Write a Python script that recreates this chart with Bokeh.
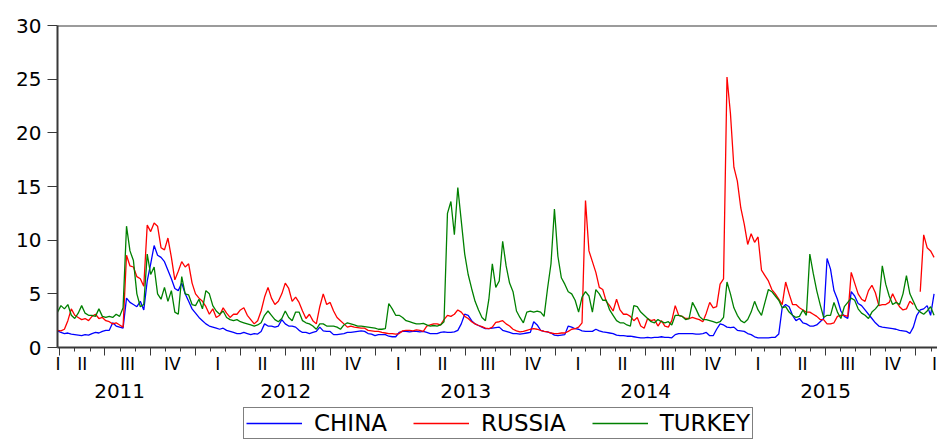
import numpy as np
import pandas as pd
from bokeh.plotting import figure
from bokeh.layouts import column
from bokeh.models import (Range1d, FixedTicker, LinearAxis, Span, Legend, LegendItem,
                          CustomLabelingPolicy)
from bokeh.embed import file_html
from bokeh.resources import INLINE

# ---------------- data (weekly readings, start 2011-03-27) ----------------
start_date = "2011-03-27"
n_weeks = 255

china = [
    1.55, 1.4, 1.3, 1.35, 1.25, 1.2, 1.15, 1.1, 1.2, 1.15,
    1.3, 1.4, 1.35, 1.5, 1.6, 1.6, 2.3, 2.0, 1.9, 1.8,
    4.6, 4.2, 4.0, 3.8, 4.3, 3.5, 6.2, 7.8, 9.5, 8.6,
    8.4, 8.0, 7.2, 6.4, 5.5, 5.3, 6.0, 5.0, 4.3, 3.6,
    3.2, 2.8, 2.5, 2.2, 2.0, 1.9, 1.8, 1.7, 1.8, 1.6,
    1.5, 1.4, 1.3, 1.3, 1.4, 1.3, 1.2, 1.3, 1.25, 1.5,
    2.2, 2.0, 2.0, 1.9, 2.0, 2.6, 2.2, 2.0, 2.0, 1.9,
    1.6, 1.4, 1.4, 1.3, 1.4, 1.5, 1.9, 1.55, 1.5, 1.5,
    1.2, 1.2, 1.25, 1.3, 1.4, 1.4, 1.45, 1.5, 1.55, 1.5,
    1.3, 1.25, 1.1, 1.2, 1.2, 1.2, 1.05, 1.0, 1.0, 1.4,
    1.5, 1.5, 1.45, 1.5, 1.5, 1.45, 1.5, 1.4, 1.3, 1.3,
    1.3, 1.4, 1.45, 1.4, 1.4, 1.45, 1.6, 2.2, 3.1, 3.0,
    2.5, 2.2, 2.05, 1.9, 1.75, 1.75, 1.8, 1.85, 1.9, 1.6,
    1.5, 1.4, 1.3, 1.3, 1.25, 1.3, 1.35, 1.4, 2.4, 2.1,
    1.6, 1.5, 1.45, 1.35, 1.15, 1.1, 1.15, 1.2, 2.0, 1.9,
    1.75, 1.7, 1.55, 1.5, 1.5, 1.5, 1.7, 1.55, 1.45, 1.4,
    1.35, 1.3, 1.15, 1.1, 1.1, 1.05, 1.05, 1.0, 0.95, 0.9,
    0.9, 0.95, 0.9, 0.95, 0.95, 1.0, 0.95, 0.95, 0.9, 1.2,
    1.3, 1.3, 1.3, 1.3, 1.3, 1.25, 1.25, 1.3, 1.4, 1.1,
    1.1, 1.7, 2.2, 2.1, 1.9, 1.85, 1.9, 1.6, 1.55, 1.5,
    1.3, 1.2, 1.0, 0.9, 0.9, 0.9, 0.9, 0.95, 0.95, 1.25,
    3.7, 4.0, 3.8, 3.0, 2.5, 2.7, 2.3, 2.2, 2.0, 2.0,
    2.1, 2.4, 2.7, 8.3, 7.3, 5.3, 4.5, 3.4, 2.9, 2.7,
    5.2, 4.8, 4.1, 3.9, 3.5, 3.1, 2.7, 2.3, 2.0, 1.9,
    1.85, 1.8, 1.75, 1.7, 1.6, 1.55, 1.5, 1.3, 1.9, 3.0,
    3.5, 3.6, 3.9, 3.0, 5.0,
]

russia = [
    1.6, 1.55, 1.7, 2.5, 3.6, 3.0, 2.8, 2.6, 2.7, 2.5,
    2.9, 3.1, 2.7, 2.8, 2.5, 2.4, 2.2, 2.3, 2.1, 1.9,
    8.6, 7.6, 7.5, 6.6, 6.4, 5.7, 11.4, 10.8, 11.6, 11.3,
    9.3, 9.1, 10.2, 8.4, 6.3, 7.1, 8.0, 7.5, 7.8, 6.0,
    5.0, 4.6, 4.3, 3.8, 3.1, 3.6, 2.8, 3.0, 3.7, 3.2,
    2.8, 3.1, 3.1, 3.5, 3.7, 3.0, 2.6, 2.2, 2.5, 3.4,
    4.7, 5.6, 4.6, 4.0, 4.3, 5.0, 6.0, 5.5, 4.3, 4.7,
    4.2, 3.4, 2.7, 3.1, 2.5, 2.2, 3.8, 5.0, 4.0, 4.2,
    3.4, 2.8, 2.5, 2.2, 1.9, 2.0, 1.9, 1.85, 1.8, 1.8,
    1.6, 1.55, 1.5, 1.5, 1.4, 1.35, 1.3, 1.3, 1.25, 1.3,
    1.55, 1.6, 1.6, 1.55, 1.65, 1.6, 1.5, 2.0, 2.1, 2.2,
    2.2, 2.1, 2.6, 3.0, 2.9, 3.1, 3.5, 3.3, 2.9, 2.7,
    2.4, 2.2, 2.05, 1.95, 1.8, 1.75, 1.9, 2.35, 2.4, 2.5,
    2.2, 2.0, 1.7, 1.55, 1.45, 1.5, 1.6, 1.7, 1.75, 1.7,
    1.6, 1.5, 1.45, 1.35, 1.3, 1.3, 1.35, 1.35, 1.5, 1.7,
    1.75, 1.9, 2.3, 13.7, 9.0, 8.0, 7.0, 5.6, 5.4, 4.3,
    3.9, 3.4, 4.5, 3.5, 3.1, 3.1, 2.9, 2.5, 2.8, 2.0,
    1.8, 2.7, 2.5, 2.6, 2.0, 2.5, 2.0, 1.9, 2.5, 3.9,
    3.0, 2.9, 2.7, 2.7, 2.8, 2.7, 2.6, 2.4, 3.2, 4.2,
    3.7, 3.8, 5.9, 6.4, 25.2, 21.8, 16.8, 15.5, 13.0, 11.5,
    9.6, 10.6, 9.8, 10.3, 7.2, 6.7, 6.2, 5.4, 5.0, 4.5,
    4.0, 6.1, 5.0, 4.0, 4.0, 3.7, 3.5, 3.3, 3.3, 3.1,
    2.9, 2.6, 2.6, 2.2, 2.2, 2.3, 2.9, 3.0, 3.0, 2.9,
    7.0, 6.0, 5.0, 4.5, 4.3, 5.3, 5.8, 5.1, 3.9, 4.0,
    4.0, 4.2, 5.0, 4.3, 3.8, 3.5, 3.6, 4.3, 4.0, float("nan"),
    5.2, 10.5, 9.3, 9.0, 8.4,
]

turkey = [
    3.3, 3.9, 3.6, 4.0, 3.0, 2.7, 3.2, 3.9, 3.2, 3.0,
    3.0, 2.9, 3.6, 2.9, 2.8, 2.9, 2.8, 3.1, 2.9, 3.7,
    11.3, 9.0, 8.1, 5.0, 3.8, 4.0, 8.7, 6.8, 7.5, 5.0,
    4.5, 5.6, 4.3, 5.3, 3.3, 3.1, 6.6, 5.0, 4.9, 4.0,
    3.9, 4.5, 3.6, 5.3, 5.0, 3.9, 3.4, 3.1, 3.4, 2.8,
    2.6, 2.5, 2.6, 2.4, 2.3, 2.2, 2.1, 2.0, 2.1, 2.3,
    3.0, 3.4, 3.0, 2.6, 2.4, 2.7, 3.4, 2.8, 2.5, 3.3,
    3.3, 2.5, 2.3, 2.2, 2.0, 1.7, 2.2, 2.2, 2.0, 2.0,
    2.0, 1.9, 1.7, 2.1, 2.3, 2.2, 2.1, 2.0, 2.0, 1.95,
    1.9, 1.85, 1.8, 1.7, 1.7, 1.75, 4.1, 3.6, 3.0, 3.0,
    2.8, 2.5, 2.4, 2.3, 2.2, 2.2, 2.25, 2.1, 2.0, 2.05,
    2.0, 2.1, 2.4, 12.5, 13.6, 10.5, 14.9, 11.8, 8.7, 6.8,
    5.5, 4.3, 3.5, 2.8, 2.5, 4.5, 7.8, 5.6, 6.2, 9.9,
    7.6, 6.0, 5.2, 3.4, 2.8, 2.3, 3.3, 3.4, 3.3, 3.4,
    3.3, 2.9, 5.5, 7.8, 12.9, 8.5, 6.5, 5.9, 5.2, 5.0,
    4.4, 3.3, 4.7, 5.2, 4.8, 3.3, 5.4, 5.0, 4.4, 4.4,
    3.5, 3.0, 2.5, 2.3, 2.3, 2.1, 2.0, 3.9, 3.8, 3.3,
    3.0, 2.7, 2.4, 2.3, 2.6, 2.4, 2.3, 2.4, 2.1, 3.0,
    3.0, 2.9, 2.6, 2.7, 4.2, 3.6, 2.9, 2.6, 2.6, 2.5,
    2.4, 2.3, 2.4, 2.8, 6.1, 5.0, 3.7, 3.0, 2.5, 2.3,
    2.6, 3.3, 4.3, 3.5, 3.0, 4.2, 5.4, 5.2, 4.8, 4.4,
    3.7, 3.8, 3.3, 3.0, 2.8, 2.9, 3.5, 3.0, 8.7, 6.9,
    5.3, 4.0, 2.8, 3.0, 3.0, 4.2, 3.3, 2.7, 3.8, 4.2,
    4.6, 4.4, 3.6, 3.2, 3.0, 2.7, 3.3, 3.6, 4.0, 7.6,
    5.9, 4.8, 4.0, 4.2, 4.0, 5.0, 6.7, 5.0, 4.3, 3.6,
    3.3, 3.1, 3.4, 3.8, 3.0,
]

series_names = ["CHINA", "RUSSIA", "TURKEY"]
series_colors = ["#0000ff", "#ff0000", "#008000"]
quarter_names = ["I", "II", "III", "IV"]
years = [2011, 2012, 2013, 2014, 2015]
y_ticks = [0, 5, 10, 15, 20, 25, 30]

# ---------------- helpers ----------------
def ms(d):
    return float(pd.Timestamp(d).value // 10**6)

dates = pd.date_range(start_date, periods=n_weeks, freq="7D")
x_start = ms("2011-03-27")
x_end = ms("2016-02-14")

FONT = "DejaVu Sans"
AX = "#383838"

p = figure(width=937, height=404, output_backend="svg", toolbar_location=None,
           x_range=Range1d(x_start, x_end), y_range=Range1d(0, 30),
           min_border_left=57, min_border_right=0, min_border_top=25,
           min_border_bottom=57, background_fill_color="white",
           border_fill_color="white")
p.outline_line_color = None
p.xgrid.visible = False
p.ygrid.visible = False

for vals, col in zip([china, russia, turkey], series_colors):
    p.line(x=dates, y=np.array(vals, dtype=float), line_color=col, line_width=1.3)

# top frame line
p.add_layout(Span(location=30, dimension="width", line_color=AX, line_width=2))

# y axis
ya = p.yaxis[0]
ya.ticker = FixedTicker(ticks=y_ticks)
ya.minor_tick_line_color = None
ya.major_tick_out = 10
ya.major_tick_in = 0
ya.major_tick_line_color = AX
ya.axis_line_color = AX
ya.axis_line_width = 2
ya.major_label_standoff = 6
ya.major_label_text_font = FONT
ya.major_label_text_font_size = "20px"
ya.major_label_text_color = "black"

# x axis A: ticks only (quarter boundaries major, months minor), no labels
qb = [ms(d) for d in pd.date_range("2011-04-01", "2016-01-01", freq="QS")]
mb = [ms(d) for d in pd.date_range("2011-04-01", "2016-02-01", freq="MS")]
xa = p.xaxis[0]
xa.ticker = FixedTicker(ticks=qb, minor_ticks=mb)
xa.major_tick_out = 8
xa.major_tick_in = 0
xa.minor_tick_out = 4
xa.minor_tick_in = 0
xa.major_tick_line_color = AX
xa.minor_tick_line_color = AX
xa.axis_line_color = AX
xa.axis_line_width = 2
xa.major_label_policy = CustomLabelingPolicy(
    code="for (const i of indices) { indices.unset(i) } return indices")
xa.major_label_text_font_size = "0px"
xa.major_label_standoff = 0

# x axis B: quarter labels
q_pos = []
q_lab = {}
first = ms("2011-03-28")
q_pos.append(first); q_lab[first] = "I"
for y in years:
    for qi, md in enumerate(["02-15", "05-16", "08-16", "11-15"]):
        t = ms(f"{y}-{md}")
        if t > first:
            q_pos.append(t); q_lab[t] = quarter_names[qi]
last = ms("2016-02-08")
q_pos.append(last); q_lab[last] = "I"

qa = LinearAxis(ticker=FixedTicker(ticks=q_pos), major_label_overrides=q_lab,
                axis_line_color=None, major_tick_line_color=None,
                minor_tick_line_color=None, major_tick_out=0, major_tick_in=0,
                major_label_standoff=-2, major_label_text_font=FONT,
                major_label_text_font_size="17px", major_label_text_color="black")
p.add_layout(qa, "below")

# x axis C: year labels
y_pos = [ms("2011-07-31")] + [ms(f"{y}-07-02") for y in years[1:]]
y_lab = {t: str(y) for t, y in zip(y_pos, years)}
ya2 = LinearAxis(ticker=FixedTicker(ticks=y_pos), major_label_overrides=y_lab,
                 axis_line_color=None, major_tick_line_color=None,
                 minor_tick_line_color=None, major_tick_out=0, major_tick_in=0,
                 major_label_standoff=7, major_label_text_font=FONT,
                 major_label_text_font_size="20px", major_label_text_color="black")
p.add_layout(ya2, "below")

# ---------------- legend strip ----------------
lf = figure(width=937, height=35, output_backend="svg", toolbar_location=None,
            x_range=Range1d(0, 1), y_range=Range1d(0, 1),
            x_axis_location=None, y_axis_location=None, min_border=0,
            background_fill_color="white", border_fill_color="white")
lf.outline_line_color = None
lf.grid.visible = False
leg_r = [lf.line(x=[5, 6], y=[5, 6], line_color=c, line_width=1.3) for c in series_colors]
legend = Legend(items=[LegendItem(label=n, renderers=[r]) for n, r in zip(series_names, leg_r)],
                orientation="horizontal", location=(186, 0),
                border_line_color="black", border_line_width=1,
                background_fill_color="white", background_fill_alpha=1.0,
                padding=2, spacing=26, glyph_width=56, glyph_height=18,
                label_standoff=12, label_text_font=FONT, label_text_color="black",
                label_text_font_size="23px", margin=0)
lf.add_layout(legend)

layout = column(p, lf, spacing=0)
open("out.html", "w").write(file_html(layout, INLINE))
